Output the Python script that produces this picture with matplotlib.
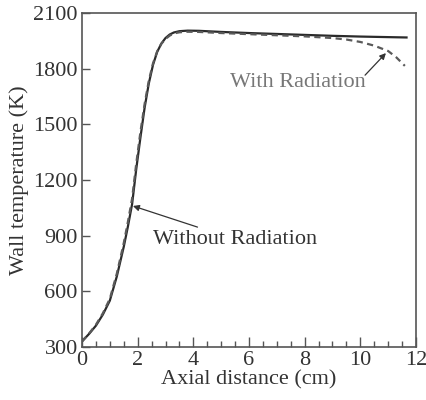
#!/usr/bin/env python3
import matplotlib
matplotlib.use("Agg")
import matplotlib.pyplot as plt
from matplotlib.ticker import MultipleLocator

# Wall temperature profiles along the axis
x_no_rad = [0.0, 0.25, 0.5, 0.75, 1.0, 1.25, 1.5, 1.65, 1.8, 1.95, 2.1, 2.25,
            2.4, 2.55, 2.7, 2.85, 3.0, 3.15, 3.3, 3.5, 3.8, 4.2, 5.0, 6.0,
            7.0, 8.0, 9.0, 10.0, 11.0, 11.7]
t_no_rad = [330, 370, 415, 475, 550, 680, 840, 950, 1070, 1260, 1430, 1590,
            1720, 1820, 1890, 1935, 1965, 1984, 1995, 2002, 2005, 2004, 1998, 1992,
            1987, 1982, 1977, 1973, 1970, 1968]

x_rad = [0.0, 0.25, 0.5, 0.75, 1.0, 1.25, 1.5, 1.65, 1.8, 1.95, 2.1, 2.25,
         2.4, 2.55, 2.7, 2.85, 3.0, 3.15, 3.3, 3.5, 3.8, 4.2, 5.0, 6.0,
         7.0, 8.0, 9.0, 9.5, 10.0, 10.5, 11.0, 11.3, 11.6]
t_rad = [330, 372, 420, 482, 560, 695, 860, 975, 1100, 1290, 1460, 1610,
         1735, 1828, 1893, 1934, 1960, 1978, 1990, 1996, 1999, 1998, 1992, 1986,
         1980, 1974, 1965, 1957, 1944, 1924, 1895, 1860, 1815]

y_ticks = [300, 600, 900, 1200, 1500, 1800, 2100]
x_ticks = [0, 2, 4, 6, 8, 10, 12]

plt.rcParams['font.family'] = ['Liberation Serif', 'DejaVu Serif']
plt.rcParams['font.size'] = 16

fig = plt.figure(figsize=(4.26, 4.0), dpi=100)
ax = fig.add_axes([0.1925, 0.1325, 0.784, 0.835])

ax.plot(x_no_rad, t_no_rad, color='#2a2a2a', lw=1.6, solid_capstyle='butt')
ax.plot(x_rad, t_rad, color='#5a5a5a', lw=1.6, ls=(0, (2.8, 2)))

ax.set_xlim(0, 12)
ax.set_ylim(300, 2100)
ax.set_xticks(x_ticks)
ax.set_yticks(y_ticks)
ax.xaxis.set_minor_locator(MultipleLocator(0.5))

ax.tick_params(axis='both', which='both', direction='in', colors='#555555',
               labelcolor='#333333', top=False, right=False)
ax.tick_params(axis='x', which='major', length=7, width=1, pad=3)
ax.tick_params(axis='x', which='minor', length=4, width=1)
ax.tick_params(axis='y', which='major', length=6, width=1, pad=3)
for s in ax.spines.values():
    s.set_color('#555555')
    s.set_linewidth(1.2)

ax.set_xlabel('Axial distance (cm)', color='#333333', labelpad=0)
ax.set_ylabel('Wall temperature (K)', color='#333333', labelpad=3)

arrow = dict(arrowstyle='-|>', color='#333333', lw=0.9, mutation_scale=9,
             shrinkA=0, shrinkB=0)
ax.annotate('Without Radiation', xy=(1.83, 1060), xytext=(2.55, 880),
            ha='left', va='center', color='#333333', arrowprops=arrow)
ax.annotate('With Radiation', xy=(10.92, 1884), xytext=(5.3, 1727),
            ha='left', va='center', color='#777777', fontsize=16)
ax.annotate('', xy=(10.92, 1884), xytext=(10.17, 1765), arrowprops=arrow)

fig.savefig('out.png', dpi=100)
